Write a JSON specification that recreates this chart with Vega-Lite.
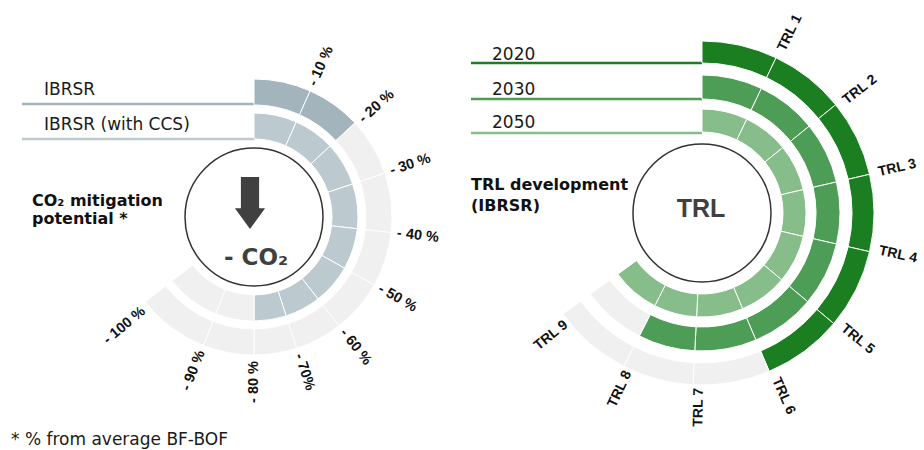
{
  "$schema": "https://vega.github.io/schema/vega-lite/v6.json",
  "width": 924,
  "height": 450,
  "padding": 0,
  "autosize": {"type": "none"},
  "background": "white",
  "config": {"view": {"stroke": null}, "axis": {"disable": true}, "legend": {"disable": true}, "font": "Liberation Sans"},
  "datasets": {
    "centers": [
      {"chart": "L", "x": 254, "y": 217},
      {"chart": "R", "x": 702, "y": 213}
    ],
    "segs": [
      {"chart": "L", "ring": "Lo", "s": 0, "e": 24, "state": "IBRSR"},
      {"chart": "L", "ring": "Lo", "s": 24, "e": 47, "state": "IBRSR"},
      {"chart": "L", "ring": "Lo", "s": 47, "e": 71.5, "state": "open"},
      {"chart": "L", "ring": "Lo", "s": 71.5, "e": 96.5, "state": "open"},
      {"chart": "L", "ring": "Lo", "s": 96.5, "e": 119.5, "state": "open"},
      {"chart": "L", "ring": "Lo", "s": 119.5, "e": 142, "state": "open"},
      {"chart": "L", "ring": "Lo", "s": 142, "e": 162, "state": "open"},
      {"chart": "L", "ring": "Lo", "s": 162, "e": 180, "state": "open"},
      {"chart": "L", "ring": "Lo", "s": 180, "e": 201.5, "state": "open"},
      {"chart": "L", "ring": "Lo", "s": 201.5, "e": 232, "state": "open"},
      {"chart": "L", "ring": "Li", "s": 0, "e": 24, "state": "CCS"},
      {"chart": "L", "ring": "Li", "s": 24, "e": 47, "state": "CCS"},
      {"chart": "L", "ring": "Li", "s": 47, "e": 71.5, "state": "CCS"},
      {"chart": "L", "ring": "Li", "s": 71.5, "e": 96.5, "state": "CCS"},
      {"chart": "L", "ring": "Li", "s": 96.5, "e": 119.5, "state": "CCS"},
      {"chart": "L", "ring": "Li", "s": 119.5, "e": 142, "state": "CCS"},
      {"chart": "L", "ring": "Li", "s": 142, "e": 162, "state": "CCS"},
      {"chart": "L", "ring": "Li", "s": 162, "e": 180, "state": "CCS"},
      {"chart": "L", "ring": "Li", "s": 180, "e": 201.5, "state": "open"},
      {"chart": "L", "ring": "Li", "s": 201.5, "e": 232, "state": "open"},
      {"chart": "R", "ring": "R20", "s": 0, "e": 25.5, "state": "2020"},
      {"chart": "R", "ring": "R20", "s": 25.5, "e": 51, "state": "2020"},
      {"chart": "R", "ring": "R20", "s": 51, "e": 77, "state": "2020"},
      {"chart": "R", "ring": "R20", "s": 77, "e": 103, "state": "2020"},
      {"chart": "R", "ring": "R20", "s": 103, "e": 130, "state": "2020"},
      {"chart": "R", "ring": "R20", "s": 130, "e": 157, "state": "2020"},
      {"chart": "R", "ring": "R20", "s": 157, "e": 183, "state": "open"},
      {"chart": "R", "ring": "R20", "s": 183, "e": 207, "state": "open"},
      {"chart": "R", "ring": "R20", "s": 207, "e": 234, "state": "open"},
      {"chart": "R", "ring": "R30", "s": 0, "e": 25.5, "state": "2030"},
      {"chart": "R", "ring": "R30", "s": 25.5, "e": 51, "state": "2030"},
      {"chart": "R", "ring": "R30", "s": 51, "e": 77, "state": "2030"},
      {"chart": "R", "ring": "R30", "s": 77, "e": 103, "state": "2030"},
      {"chart": "R", "ring": "R30", "s": 103, "e": 130, "state": "2030"},
      {"chart": "R", "ring": "R30", "s": 130, "e": 157, "state": "2030"},
      {"chart": "R", "ring": "R30", "s": 157, "e": 183, "state": "2030"},
      {"chart": "R", "ring": "R30", "s": 183, "e": 207, "state": "2030"},
      {"chart": "R", "ring": "R30", "s": 207, "e": 234, "state": "open"},
      {"chart": "R", "ring": "R50", "s": 0, "e": 25.5, "state": "2050"},
      {"chart": "R", "ring": "R50", "s": 25.5, "e": 51, "state": "2050"},
      {"chart": "R", "ring": "R50", "s": 51, "e": 77, "state": "2050"},
      {"chart": "R", "ring": "R50", "s": 77, "e": 103, "state": "2050"},
      {"chart": "R", "ring": "R50", "s": 103, "e": 130, "state": "2050"},
      {"chart": "R", "ring": "R50", "s": 130, "e": 157, "state": "2050"},
      {"chart": "R", "ring": "R50", "s": 157, "e": 183, "state": "2050"},
      {"chart": "R", "ring": "R50", "s": 183, "e": 207, "state": "2050"},
      {"chart": "R", "ring": "R50", "s": 207, "e": 234, "state": "2050"}
    ],
    "ticks": [
      {"chart": "L", "t": "- 10 %", "theta": 24, "flip": false},
      {"chart": "L", "t": "- 20 %", "theta": 48, "flip": false},
      {"chart": "L", "t": "- 30 %", "theta": 71.5, "flip": false},
      {"chart": "L", "t": "- 40 %", "theta": 96.5, "flip": false},
      {"chart": "L", "t": "- 50 %", "theta": 119.5, "flip": false},
      {"chart": "L", "t": "- 60 %", "theta": 142, "flip": false},
      {"chart": "L", "t": "- 70%", "theta": 162, "flip": false},
      {"chart": "L", "t": "- 80 %", "theta": 180, "flip": true},
      {"chart": "L", "t": "- 90 %", "theta": 201.5, "flip": true},
      {"chart": "L", "t": "- 100 %", "theta": 230, "flip": true},
      {"chart": "R", "t": "TRL 1", "theta": 26, "flip": false},
      {"chart": "R", "t": "TRL 2", "theta": 52, "flip": false},
      {"chart": "R", "t": "TRL 3", "theta": 77, "flip": false},
      {"chart": "R", "t": "TRL 4", "theta": 102, "flip": false},
      {"chart": "R", "t": "TRL 5", "theta": 129, "flip": false},
      {"chart": "R", "t": "TRL 6", "theta": 156, "flip": false},
      {"chart": "R", "t": "TRL 7", "theta": 181, "flip": true},
      {"chart": "R", "t": "TRL 8", "theta": 205, "flip": true},
      {"chart": "R", "t": "TRL 9", "theta": 231, "flip": true}
    ],
    "lines": [
      {"state": "IBRSR", "x": 22, "x2": 255, "y": 104},
      {"state": "CCS", "x": 22, "x2": 255, "y": 139},
      {"state": "2020", "x": 471, "x2": 702, "y": 63},
      {"state": "2030", "x": 471, "x2": 702, "y": 99},
      {"state": "2050", "x": 471, "x2": 702, "y": 133}
    ],
    "texts": [
      {"kind": "plain", "text": "IBRSR", "x": 44, "y": 95},
      {"kind": "plain", "text": "IBRSR (with CCS)", "x": 44, "y": 130},
      {"kind": "plain", "text": "2020", "x": 492, "y": 60},
      {"kind": "plain", "text": "2030", "x": 492, "y": 95},
      {"kind": "plain", "text": "2050", "x": 492, "y": 128},
      {"kind": "title", "text": "CO₂ mitigation", "x": 32, "y": 206},
      {"kind": "title", "text": "potential *", "x": 32, "y": 224},
      {"kind": "title", "text": "TRL development", "x": 471, "y": 190},
      {"kind": "title", "text": "(IBRSR)", "x": 471, "y": 211},
      {"kind": "co2", "text": "- CO₂", "x": 256, "y": 265},
      {"kind": "trl", "text": "TRL", "x": 701, "y": 217},
      {"kind": "note", "text": "* % from average BF-BOF", "x": 11, "y": 445}
    ]
  },
  "encoding": {
    "x": {"field": "x", "type": "quantitative", "scale": {"domain": [0, 924], "nice": false, "zero": false}},
    "y": {"field": "y", "type": "quantitative", "scale": {"domain": [0, 450], "nice": false, "zero": false, "reverse": true}}
  },
  "resolve": {"scale": {"angle": "independent"}},
  "layer": [
    {
      "data": {"name": "lines"},
      "mark": {"type": "rule", "strokeWidth": 2.5},
      "encoding": {
        "x2": {"field": "x2"},
        "color": {"field": "state", "type": "nominal", "scale": {"domain": ["IBRSR", "CCS", "2020", "2030", "2050", "open"], "range": ["#a3b4bc", "#bccad0", "#1b7f22", "#4e9d56", "#87bc8b", "#f0f0f0"]}, "legend": null}
      }
    },
    {
      "data": {"name": "segs"},
      "transform": [{"filter": "datum.ring === 'Lo'"}, {"lookup": "chart", "from": {"data": {"name": "centers"}, "key": "chart", "fields": ["x", "y"]}}],
      "mark": {"type": "arc", "radius": 138, "radius2": 112, "stroke": "#ffffff", "strokeWidth": 1},
      "encoding": {
        "theta": {"field": "s", "type": "quantitative", "scale": {"domain": [0, 360], "nice": false, "zero": false}, "stack": null},
        "theta2": {"field": "e"},
        "color": {"field": "state", "type": "nominal", "legend": null}
      }
    },
    {
      "data": {"name": "segs"},
      "transform": [{"filter": "datum.ring === 'Li'"}, {"lookup": "chart", "from": {"data": {"name": "centers"}, "key": "chart", "fields": ["x", "y"]}}],
      "mark": {"type": "arc", "radius": 104, "radius2": 78, "stroke": "#ffffff", "strokeWidth": 1},
      "encoding": {
        "theta": {"field": "s", "type": "quantitative", "stack": null},
        "theta2": {"field": "e"},
        "color": {"field": "state", "type": "nominal", "legend": null}
      }
    },
    {
      "data": {"name": "segs"},
      "transform": [{"filter": "datum.ring === 'R20'"}, {"lookup": "chart", "from": {"data": {"name": "centers"}, "key": "chart", "fields": ["x", "y"]}}],
      "mark": {"type": "arc", "radius": 172, "radius2": 150, "stroke": "#ffffff", "strokeWidth": 1},
      "encoding": {
        "theta": {"field": "s", "type": "quantitative", "stack": null},
        "theta2": {"field": "e"},
        "color": {"field": "state", "type": "nominal", "legend": null}
      }
    },
    {
      "data": {"name": "segs"},
      "transform": [{"filter": "datum.ring === 'R30'"}, {"lookup": "chart", "from": {"data": {"name": "centers"}, "key": "chart", "fields": ["x", "y"]}}],
      "mark": {"type": "arc", "radius": 138, "radius2": 114, "stroke": "#ffffff", "strokeWidth": 1},
      "encoding": {
        "theta": {"field": "s", "type": "quantitative", "stack": null},
        "theta2": {"field": "e"},
        "color": {"field": "state", "type": "nominal", "legend": null}
      }
    },
    {
      "data": {"name": "segs"},
      "transform": [{"filter": "datum.ring === 'R50'"}, {"lookup": "chart", "from": {"data": {"name": "centers"}, "key": "chart", "fields": ["x", "y"]}}],
      "mark": {"type": "arc", "radius": 104, "radius2": 81, "stroke": "#ffffff", "strokeWidth": 1},
      "encoding": {
        "theta": {"field": "s", "type": "quantitative", "stack": null},
        "theta2": {"field": "e"},
        "color": {"field": "state", "type": "nominal", "legend": null}
      }
    },
    {
      "data": {"name": "centers"},
      "mark": {"type": "arc", "radius": 69, "radius2": 0, "fill": "#ffffff", "stroke": "#333333", "strokeWidth": 1.5},
      "encoding": {
        "theta": {"datum": 0, "type": "quantitative"},
        "theta2": {"datum": 360}
      }
    },
    {
      "data": {"values": [{"x": 250, "y": 203}]},
      "mark": {"type": "point", "filled": true, "shape": "M -0.35 -1 L 0.35 -1 L 0.35 0.2 L 0.58 0.2 L 0 1 L -0.58 0.2 L -0.35 0.2 Z", "size": 2704, "color": "#404040", "opacity": 1}
    },
    {
      "data": {"name": "ticks"},
      "transform": [{"filter": "datum.chart === 'L' && !datum.flip"}, {"lookup": "chart", "from": {"data": {"name": "centers"}, "key": "chart", "fields": ["x", "y"]}}],
      "mark": {"type": "text", "radius": 144, "align": "left", "baseline": "middle", "fontSize": 14.5, "fontWeight": "bold", "color": "#111111"},
      "encoding": {
        "theta": {"field": "theta", "type": "quantitative", "stack": null},
        "angle": {"field": "theta", "type": "quantitative", "scale": {"domain": [0, 360], "range": [-90, 270], "nice": false, "zero": false}},
        "text": {"field": "t"}
      }
    },
    {
      "data": {"name": "ticks"},
      "transform": [{"filter": "datum.chart === 'L' && datum.flip"}, {"lookup": "chart", "from": {"data": {"name": "centers"}, "key": "chart", "fields": ["x", "y"]}}],
      "mark": {"type": "text", "radius": 144, "align": "right", "baseline": "middle", "fontSize": 14.5, "fontWeight": "bold", "color": "#111111"},
      "encoding": {
        "theta": {"field": "theta", "type": "quantitative", "stack": null},
        "angle": {"field": "theta", "type": "quantitative", "scale": {"domain": [0, 360], "range": [-270, 90], "nice": false, "zero": false}},
        "text": {"field": "t"}
      }
    },
    {
      "data": {"name": "ticks"},
      "transform": [{"filter": "datum.chart === 'R' && !datum.flip"}, {"lookup": "chart", "from": {"data": {"name": "centers"}, "key": "chart", "fields": ["x", "y"]}}],
      "mark": {"type": "text", "radius": 181, "align": "left", "baseline": "middle", "fontSize": 14, "fontWeight": "bold", "color": "#111111"},
      "encoding": {
        "theta": {"field": "theta", "type": "quantitative", "stack": null},
        "angle": {"field": "theta", "type": "quantitative", "scale": {"domain": [0, 360], "range": [-90, 270], "nice": false, "zero": false}},
        "text": {"field": "t"}
      }
    },
    {
      "data": {"name": "ticks"},
      "transform": [{"filter": "datum.chart === 'R' && datum.flip"}, {"lookup": "chart", "from": {"data": {"name": "centers"}, "key": "chart", "fields": ["x", "y"]}}],
      "mark": {"type": "text", "radius": 175, "align": "right", "baseline": "middle", "fontSize": 14, "fontWeight": "bold", "color": "#111111"},
      "encoding": {
        "theta": {"field": "theta", "type": "quantitative", "stack": null},
        "angle": {"field": "theta", "type": "quantitative", "scale": {"domain": [0, 360], "range": [-270, 90], "nice": false, "zero": false}},
        "text": {"field": "t"}
      }
    },
    {
      "data": {"name": "texts"},
      "transform": [{"filter": "datum.kind === 'plain'"}],
      "mark": {"type": "text", "align": "left", "baseline": "alphabetic", "font": "DejaVu Sans", "fontSize": 17, "color": "#1a1a1a"},
      "encoding": {"text": {"field": "text"}}
    },
    {
      "data": {"name": "texts"},
      "transform": [{"filter": "datum.kind === 'title'"}],
      "mark": {"type": "text", "align": "left", "baseline": "alphabetic", "font": "DejaVu Sans", "fontSize": 16, "fontWeight": "bold", "color": "#111111"},
      "encoding": {"text": {"field": "text"}}
    },
    {
      "data": {"name": "texts"},
      "transform": [{"filter": "datum.kind === 'co2'"}],
      "mark": {"type": "text", "align": "center", "baseline": "alphabetic", "font": "DejaVu Sans", "fontSize": 23, "fontWeight": "bold", "color": "#404040"},
      "encoding": {"text": {"field": "text"}}
    },
    {
      "data": {"name": "texts"},
      "transform": [{"filter": "datum.kind === 'trl'"}],
      "mark": {"type": "text", "align": "center", "baseline": "alphabetic", "fontSize": 25, "fontWeight": "bold", "color": "#404040"},
      "encoding": {"text": {"field": "text"}}
    },
    {
      "data": {"name": "texts"},
      "transform": [{"filter": "datum.kind === 'note'"}],
      "mark": {"type": "text", "align": "left", "baseline": "alphabetic", "font": "DejaVu Sans", "fontSize": 17, "color": "#1a1a1a"},
      "encoding": {"text": {"field": "text"}}
    }
  ]
}
